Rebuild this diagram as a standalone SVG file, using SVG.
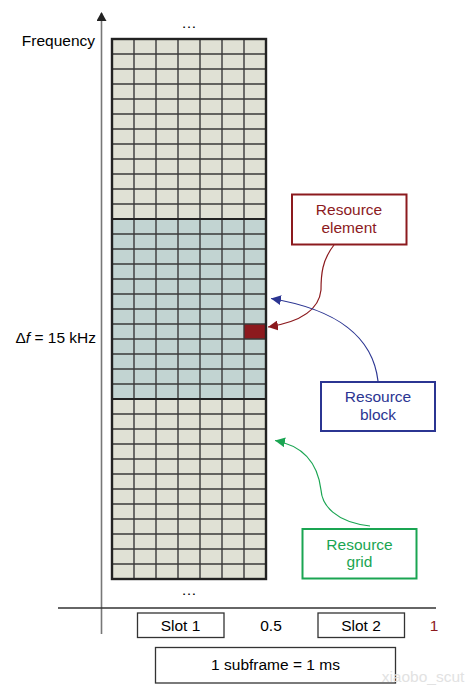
<svg xmlns="http://www.w3.org/2000/svg" width="476" height="696" viewBox="0 0 476 696">
<defs>
<style>
text{font-family:"Liberation Sans",Arial,sans-serif;font-size:15.5px;}
.lbl{text-anchor:middle;}
.grid{fill:none;stroke:#3a3a3a;stroke-width:1.4;}
.box{fill:#fff;stroke-width:2;}
</style>
<marker id="aR" markerUnits="userSpaceOnUse" markerWidth="12" markerHeight="10" refX="10" refY="5" orient="auto"><path d="M0,0 L10,5 L0,10 Z" fill="#8c1a1e"/></marker>
<marker id="aB" markerUnits="userSpaceOnUse" markerWidth="12" markerHeight="10" refX="10" refY="5" orient="auto"><path d="M0,0 L10,5 L0,10 Z" fill="#2b3592"/></marker>
<marker id="aG" markerUnits="userSpaceOnUse" markerWidth="12" markerHeight="10" refX="10" refY="5" orient="auto"><path d="M0,0 L10,5 L0,10 Z" fill="#1aa552"/></marker>
<marker id="aK" markerUnits="userSpaceOnUse" markerWidth="10" markerHeight="10" refX="5" refY="1" orient="0"><path d="M0,9 L5,0 L10,9 Z" fill="#222"/></marker>
</defs>
<rect width="476" height="696" fill="#fff"/>

<g id="axes">
<line x1="101.5" y1="634" x2="101.5" y2="13" stroke="#777" stroke-width="1.6" marker-end="url(#aK)"/>
<line x1="58" y1="608" x2="436" y2="608" stroke="#333" stroke-width="1.3"/>
<text x="95" y="46" text-anchor="end">Frequency</text>
<text x="96" y="343" text-anchor="end">Δ<tspan font-style="italic">f</tspan> = 15 kHz</text>
</g>

<g id="resource-grid-cells">
<rect x="112" y="39" width="154" height="180" fill="#e0e1d5"/>
<rect x="112" y="219" width="154" height="180" fill="#c2d4d2"/>
<rect x="112" y="399" width="154" height="180" fill="#e0e1d5"/>
<rect id="resource-element-cell" x="244" y="324" width="22" height="15" fill="#8c1a1e"/>
<path class="grid" d="M134,39V579M156,39V579M178,39V579M200,39V579M222,39V579M244,39V579
M112,54H266M112,69H266M112,84H266M112,99H266M112,114H266M112,129H266M112,144H266M112,159H266M112,174H266M112,189H266M112,204H266
M112,234H266M112,249H266M112,264H266M112,279H266M112,294H266M112,309H266M112,324H266M112,339H266M112,354H266M112,369H266M112,384H266
M112,414H266M112,429H266M112,444H266M112,459H266M112,474H266M112,489H266M112,504H266M112,519H266M112,534H266M112,549H266M112,564H266"/>
<path d="M112,219H266M112,399H266" stroke="#222" stroke-width="2.2"/>
<rect x="112" y="39" width="154" height="540" fill="none" stroke="#222" stroke-width="2.4"/>
<text x="189" y="28" class="lbl">…</text>
<text x="189" y="595" class="lbl">…</text>
</g>

<g id="resource-element">
<rect class="box" x="292" y="194.5" width="114.5" height="50" stroke="#8c1a1e"/>
<text x="349" y="215" class="lbl" fill="#8c1a1e">Resource</text>
<text x="349" y="233" class="lbl" fill="#8c1a1e">element</text>
</g>

<g id="resource-block">
<rect class="box" x="321" y="382" width="114" height="49" stroke="#2b3592"/>
<text x="378" y="402" class="lbl" fill="#2b3592">Resource</text>
<text x="378" y="420" class="lbl" fill="#2b3592">block</text>
</g>

<g id="resource-grid">
<rect class="box" x="302.5" y="529" width="114" height="49.5" stroke="#1aa552"/>
<text x="359.5" y="550" class="lbl" fill="#1aa552">Resource</text>
<text x="359.5" y="567" class="lbl" fill="#1aa552">grid</text>
</g>

<g id="connectors" fill="none" stroke-width="1.2">
<path d="M334,245 C322,260 321,275 321,290 C319,310 300,322 268,327" stroke="#8c1a1e" marker-end="url(#aR)"/>
<path d="M378,381 C373,338 340,310 271,298.5" stroke="#2b3592" marker-end="url(#aB)"/>
<path d="M370,526 C335,522 322,505 321,490 C318,465 305,446 275,440.5" stroke="#1aa552" marker-end="url(#aG)"/>
</g>

<g id="slot-1">
<rect x="137.5" y="613" width="86.5" height="24.5" fill="#fff" stroke="#333" stroke-width="1.3"/>
<text x="180.5" y="630.5" class="lbl">Slot 1</text>
</g>
<text x="271" y="630.5" class="lbl">0.5</text>
<g id="slot-2">
<rect x="318" y="613" width="86.5" height="24.5" fill="#fff" stroke="#333" stroke-width="1.3"/>
<text x="361" y="630.5" class="lbl">Slot 2</text>
</g>
<text x="434" y="630.5" class="lbl" fill="#8c1a1e">1</text>
<g id="subframe">
<rect x="155.5" y="647.5" width="240" height="35.5" fill="#fff" stroke="#333" stroke-width="1.3"/>
<text x="275.5" y="670" class="lbl">1 subframe = 1 ms</text>
</g>
<text x="423" y="682" class="lbl" fill="#e2e2e2" font-size="16">xiaobo_scut</text>
</svg>
